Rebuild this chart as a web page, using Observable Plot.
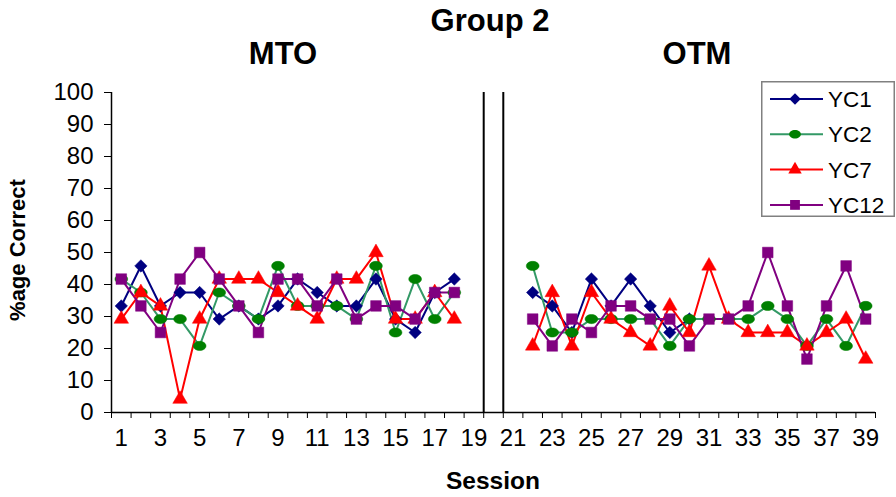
<!DOCTYPE html>
<html><head><meta charset="utf-8">
<script src="https://cdn.jsdelivr.net/npm/d3@7"></script>
<script src="https://cdn.jsdelivr.net/npm/@observablehq/plot@0.6"></script>
<style>
body{margin:0;background:#fff;font-family:"Liberation Sans",Arial,sans-serif;}
#wrap{position:relative;width:896px;height:497px;overflow:hidden;}
.t{position:absolute;font-weight:bold;color:#000;white-space:nowrap;transform:translate(-50%,-50%);line-height:1;}
#legend{position:absolute;left:761px;top:81px;width:134px;height:136px;}
</style></head><body><div id="wrap"></div>
<script>
// ---- data ----
const sessions = d3.range(1, 40);
const seriesNames = ["YC1", "YC2", "YC7", "YC12"];
const yc1 = [33.3,45.8,33.3,37.5,37.5,29.2,33.3,29.2,33.3,41.7,37.5,33.3,33.3,41.7,29.2,25,37.5,41.7,null,null,null,
             37.5,33.3,25,41.7,33.3,41.7,33.3,25,29.2,null,null,null,null,null,null,null,null,null];
const yc2 = [41.7,37.5,29.2,29.2,20.8,37.5,33.3,29.2,45.8,33.3,33.3,33.3,29.2,45.8,25,41.7,29.2,37.5,null,null,null,
             45.8,25,25,29.2,29.2,29.2,29.2,20.8,29.2,29.2,29.2,29.2,33.3,29.2,20.8,29.2,20.8,33.3];
const yc7 = [29.2,37.5,33.3,4.17,29.2,41.7,41.7,41.7,37.5,33.3,29.2,41.7,41.7,50,29.2,29.2,37.5,29.2,null,null,null,
             20.8,37.5,20.8,37.5,29.2,25,20.8,33.3,25,45.8,29.2,25,25,25,20.8,25,29.2,16.7];
const yc12 = [41.7,33.3,25,41.7,50,41.7,33.3,25,41.7,41.7,33.3,41.7,29.2,33.3,33.3,29.2,37.5,37.5,null,null,null,
              29.2,20.8,29.2,25,33.3,33.3,29.2,29.2,20.8,29.2,29.2,33.3,50,33.3,16.7,33.3,45.8,29.2];
const yTicks = d3.range(0, 101, 10);
const xLabelTicks = d3.range(1, 40, 2);
const phaseLines = [19.5, 20.5];
const titleText = "Group 2";
const phaseNames = ["MTO", "OTM"];

// ---- styling ----
const ellipseSym = {draw(ctx, size){ const r=Math.sqrt(size/Math.PI); const rx=r*1.18, ry=r*0.85, k=0.5523;
  ctx.moveTo(rx,0); ctx.bezierCurveTo(rx,ry*k,rx*k,ry,0,ry); ctx.bezierCurveTo(-rx*k,ry,-rx,ry*k,-rx,0);
  ctx.bezierCurveTo(-rx,-ry*k,-rx*k,-ry,0,-ry); ctx.bezierCurveTo(rx*k,-ry,rx,-ry*k,rx,0); ctx.closePath(); }};
const styles = {
  YC1: {line:"#000080", fill:"#000080", symbol:"diamond2", r:5.6},
  YC2: {line:"#339966", fill:"#008000", symbol:ellipseSym, r:5.4},
  YC7: {line:"#FF0000", fill:"#FF0000", symbol:"triangle", r:5.4},
  YC12:{line:"#800080", fill:"#800080", symbol:"square", r:6.0}
};
const allVals = {YC1: yc1, YC2: yc2, YC7: yc7, YC12: yc12};
const rows = name => sessions.map((s,i)=>({series:name, session:s, value: allVals[name][i]}));

const marks = [
  Plot.ruleY([0], {stroke:"#000", strokeWidth:1.5}),
  Plot.ruleX([0.5], {stroke:"#000", strokeWidth:1.5}),
  Plot.ruleX(phaseLines, {y1:0, y2:100, stroke:"#000", strokeWidth:2}),
  Plot.axisY({ticks:yTicks, tickSize:7, tickPadding:11, fontSize:24}),
  Plot.axisX({ticks:d3.range(0.5, 40, 1), tickFormat:()=>"", tickSize:6}),
  Plot.axisX({ticks:xLabelTicks, tickSize:0, tickPadding:16, fontSize:24})
];
for (const name of seriesNames) {
  const st = styles[name];
  marks.push(Plot.line(rows(name), {x:"session", y:"value", stroke:st.line, strokeWidth:2}));
}
for (const name of seriesNames) {
  const st = styles[name];
  marks.push(Plot.dot(rows(name).filter(d=>d.value!=null), {x:"session", y:"value", symbol:()=>st.symbol, r:st.r, fill:st.fill, stroke:st.fill, strokeWidth:0.5}));
}

const chart = Plot.plot({
  width:896, height:497,
  marginLeft:111, marginRight:21, marginTop:92, marginBottom:85,
  x:{type:"linear", domain:[0.5, 39.5], label:null},
  y:{domain:[0,100], label:null},
  symbol:{type:"identity"},
  style:{fontFamily:"'Liberation Sans', Arial, sans-serif", fontSize:"24px", color:"#000", background:"#fff"},
  marks
});
const wrap = document.getElementById("wrap");
wrap.appendChild(chart);

function addText(txt, x, y, size, rot){
  const d=document.createElement("div"); d.className="t"; d.textContent=txt;
  d.style.left=x+"px"; d.style.top=y+"px"; d.style.fontSize=size+"px";
  if(rot) d.style.transform="translate(-50%,-50%) rotate(-90deg)";
  wrap.appendChild(d);
}
addText(titleText, 490, 20, 31);
addText(phaseNames[0], 283, 53, 31);
addText(phaseNames[1], 697, 53, 31);
addText("Session", 493, 481, 24.5);
addText("%age Correct", 18, 250, 22, true);

// legend
const lg = d3.select(wrap).append("svg").attr("id","legend").attr("width",134).attr("height",136);
lg.append("rect").attr("x",0.75).attr("y",0.75).attr("width",132.5).attr("height",134.5).attr("fill","#fff").attr("stroke","#808080").attr("stroke-width",1.5);
seriesNames.forEach((name,i)=>{
  const st=styles[name]; const cy=18+i*35.3;
  lg.append("line").attr("x1",9).attr("x2",62).attr("y1",cy).attr("y2",cy).attr("stroke",st.line).attr("stroke-width",2);
  const sym = typeof st.symbol==="string" ? ({diamond2:d3.symbolDiamond2, triangle:d3.symbolTriangle, square:d3.symbolSquare})[st.symbol] : st.symbol;
  lg.append("path").attr("d", d3.symbol(sym, Math.PI*st.r*st.r*0.85)()).attr("transform",`translate(34,${cy})`).attr("fill",st.fill);
  lg.append("text").attr("x",67).attr("y",cy).attr("dy","0.36em").attr("font-size",22.5)
    .attr("font-family","'Liberation Sans', Arial, sans-serif").text(name);
});
</script></body></html>
